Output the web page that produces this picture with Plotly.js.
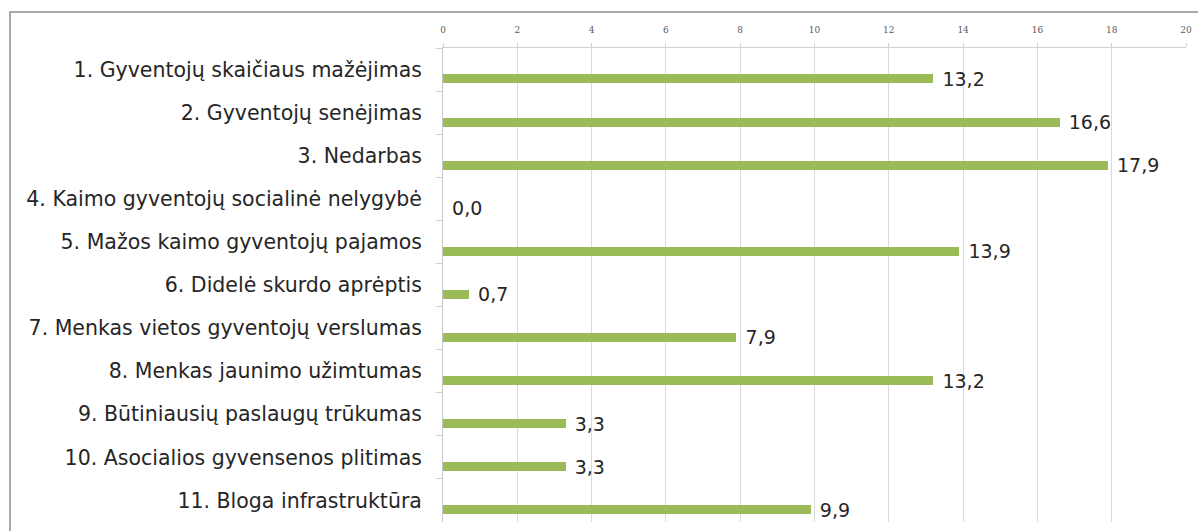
<!DOCTYPE html>
<html>
<head>
<meta charset="utf-8">
<script src="https://cdn.plot.ly/plotly-3.0.1.min.js"></script>
<style>
  html, body { margin: 0; padding: 0; background: #fff; }
  #wrap { position: relative; width: 1198px; height: 531px; overflow: hidden; }
  #chart { width: 1198px; height: 531px; }
  #frame { position: absolute; left: 9px; top: 11px; width: 1200px; height: 540px;
           border-left: 2px solid #a9a9a9; border-top: 2px solid #a9a9a9; pointer-events: none; }
</style>
</head>
<body>
<div id="wrap">
  <div id="chart"></div>
  <div id="frame"></div>
</div>
<script>
const categories = [
  "1. Gyventojų skaičiaus mažėjimas",
  "2. Gyventojų senėjimas",
  "3. Nedarbas",
  "4. Kaimo gyventojų socialinė nelygybė",
  "5. Mažos kaimo gyventojų pajamos",
  "6. Didelė skurdo aprėptis",
  "7. Menkas vietos gyventojų verslumas",
  "8. Menkas jaunimo užimtumas",
  "9. Būtiniausių paslaugų trūkumas",
  "10. Asocialios gyvensenos plitimas",
  "11. Bloga infrastruktūra"
];
const values = [13.2, 16.6, 17.9, 0.0, 13.9, 0.7, 7.9, 13.2, 3.3, 3.3, 9.9];
const xTicks = [0, 2, 4, 6, 8, 10, 12, 14, 16, 18, 20];

const labelFont = "'DejaVu Sans', 'Open Sans', sans-serif";

const trace = {
  type: 'bar',
  orientation: 'h',
  x: values,
  y: categories,
  marker: { color: '#9bbb59' },
  width: 0.21,
  offset: 0.113,
  text: values.map(v => '\u00a0' + v.toFixed(1).replace('.', ',')),
  textposition: 'outside',
  constraintext: 'none',
  textfont: { family: labelFont, size: 19, color: '#262626' },
  cliponaxis: false,
  hoverinfo: 'none'
};

const layout = {
  width: 1198,
  height: 531,
  margin: { l: 443, r: 12, t: 48, b: 9 },
  paper_bgcolor: '#ffffff',
  plot_bgcolor: '#ffffff',
  showlegend: false,
  bargap: 0,
  xaxis: {
    side: 'top',
    range: [0, 20],
    tickvals: xTicks,
    ticktext: xTicks.map(String),
    showgrid: true,
    gridcolor: '#d9d9d9',
    gridwidth: 1,
    zeroline: false,
    showline: true,
    linecolor: '#d0d0d0',
    ticks: 'outside',
    ticklen: 4,
    tickcolor: '#d0d0d0',
    ticklabelstandoff: 6,
    tickfont: { family: "'DejaVu Serif', serif", size: 9, color: '#595959' }
  },
  yaxis: {
    type: 'category',
    categoryorder: 'array',
    categoryarray: categories,
    range: [10.5, -0.5],
    showgrid: false,
    zeroline: false,
    showline: true,
    linecolor: '#c8c8c8',
    ticks: 'outside',
    tickson: 'boundaries',
    ticklen: 6,
    tickcolor: '#d0d0d0',
    ticklabelstandoff: 16,
    tickfont: { family: labelFont, size: 20.5, color: '#262626' }
  }
};

Plotly.newPlot('chart', [trace], layout, { displayModeBar: false, staticPlot: true });
</script>
</body>
</html>
